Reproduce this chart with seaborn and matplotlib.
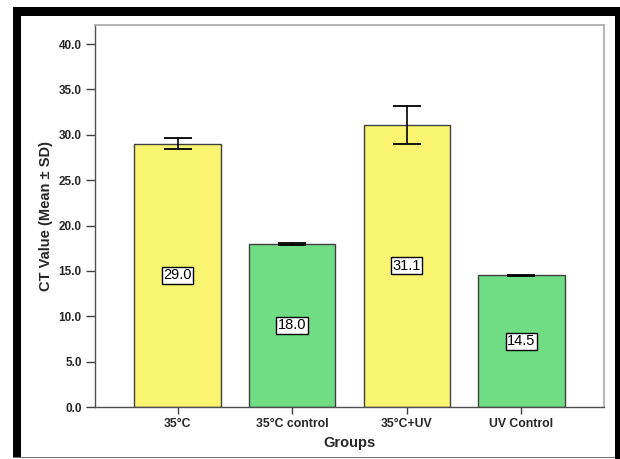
import matplotlib
matplotlib.use("Agg")
import matplotlib.pyplot as plt
from matplotlib.patches import Rectangle
import seaborn as sns
import pandas as pd

# Group means and standard deviations of CT values
groups = ["35°C", "35°C control", "35°C+UV", "UV Control"]
means = [29.0, 18.0, 31.1, 14.5]
sds = [0.6, 0.1, 2.1, 0.1]
bar_colors = ["#FAF570", "#70DD84", "#FAF570", "#70DD84"]
y_ticks = [0, 5, 10, 15, 20, 25, 30, 35, 40]

df = pd.DataFrame({"Groups": groups, "CT": means})

sns.set_theme(style="white")
plt.rcParams["font.family"] = ["Liberation Sans", "DejaVu Sans"]

W, H = 620, 459
fig = plt.figure(figsize=(W / 100, H / 100), dpi=100)
fig.patch.set_facecolor("white")
ax = fig.add_axes([95 / W, 1 - 407 / H, (604 - 95) / W, (407 - 25) / H])

sns.barplot(data=df, x="Groups", y="CT", hue="Groups", palette=bar_colors,
            order=groups, hue_order=groups, legend=False, errorbar=None,
            width=0.753, edgecolor="#404040", linewidth=1.0, saturation=1,
            ax=ax)

# Mean ± SD error bars
ax.errorbar(range(len(groups)), means, yerr=sds, fmt="none", ecolor="black",
            elinewidth=1.2, capsize=10, capthick=1.3, zorder=5)

# Value labels in boxes at half the bar height
for i, m in enumerate(means):
    ax.text(i, m / 2, f"{m:.1f}", ha="center", va="center", fontsize=10.5,
            color="black", zorder=6,
            bbox=dict(boxstyle="square,pad=0.1", facecolor="white",
                      edgecolor="black", linewidth=1.0))

ax.set_xlim(-0.72, 3.72)
ax.set_ylim(0, 42.1)
ax.set_yticks(y_ticks)
ax.set_yticklabels([f"{v:.1f}" for v in y_ticks])

ax.set_xlabel("Groups", fontsize=10.5, fontweight="bold", labelpad=4)
ax.set_ylabel("CT Value (Mean ± SD)", fontsize=10.5, fontweight="bold",
              labelpad=4)

ax.tick_params(axis="y", which="major", direction="out", length=6.5,
               width=1.0, color="#404040", labelsize=8.5, pad=3, left=True)
ax.tick_params(axis="x", which="major", direction="out", length=5,
               width=1.0, color="#404040", labelsize=8.8, pad=3, bottom=True)
for lab in ax.get_xticklabels() + ax.get_yticklabels():
    lab.set_fontweight("bold")

for side in ["left", "bottom"]:
    ax.spines[side].set_color("#505050")
    ax.spines[side].set_linewidth(1.0)
for side in ["top", "right"]:
    ax.spines[side].set_color("#A8A8A8")
    ax.spines[side].set_linewidth(1.2)
    ax.spines[side].set_visible(True)

# Heavy black frame around the chart
def px_rect(x0, y0, x1, y1, color):
    fig.add_artist(Rectangle((x0 / W, 1 - y1 / H), (x1 - x0) / W, (y1 - y0) / H,
                             transform=fig.transFigure, facecolor=color,
                             edgecolor="none", zorder=10))

px_rect(13, 7, 620, 16, "black")      # top
px_rect(13, 7, 21, 458, "black")      # left
px_rect(615, 7, 620, 459, "black")    # right
px_rect(13, 456.5, 615, 458, "#707070")  # bottom

fig.savefig("out.png", dpi=100, facecolor="white")
